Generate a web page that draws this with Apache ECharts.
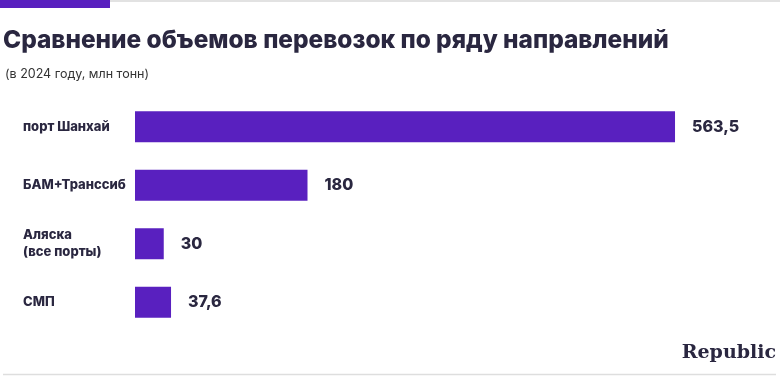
<!DOCTYPE html>
<html><head><meta charset="utf-8">
<script src="https://cdn.jsdelivr.net/npm/echarts@6/dist/echarts.min.js"></script>
<style>html,body{margin:0;padding:0;background:#fff}#c{width:780px;height:381px}</style>
</head><body><div id="c"></div>
<script>
const categories = ['порт Шанхай', 'БАМ+Транссиб', 'Аляска\n(все порты)', 'СМП'];
const values = [563.5, 180, 30, 37.6];
const titleText = 'Сравнение объемов перевозок по ряду направлений';
const subtitleText = '(в 2024 году, млн тонн)';
const brandText = 'Republic';

const chart = echarts.init(document.getElementById('c'), null, {renderer: 'canvas'});
chart.setOption({
  animation: false,
  backgroundColor: '#fff',
  title: [
    {text: titleText, left: 3, top: 29, padding: 0, textStyle: {fontFamily: 'Inter', fontWeight: 800, fontSize: 24.4, color: '#2a2740'}},
    {text: subtitleText, left: 5, top: 68, padding: 0, textStyle: {fontFamily: 'Inter', fontWeight: 400, fontSize: 12.5, color: '#333'}},
    {text: brandText, right: 4, top: 344, padding: 0, textStyle: {fontFamily: 'DejaVu Serif', fontWeight: 'bold', fontSize: 19, color: '#2a2740'}}
  ],
  graphic: [
    {type: 'rect', shape: {x: 0, y: 0, width: 110, height: 8}, style: {fill: '#5920bf'}},
    {type: 'line', shape: {x1: 110, y1: 1, x2: 780, y2: 1}, style: {stroke: '#e2e2e2', lineWidth: 2}},
    {type: 'line', shape: {x1: 3, y1: 374.5, x2: 776, y2: 374.5}, style: {stroke: '#dedede', lineWidth: 1.5}}
  ],
  grid: {left: 135, width: 575, top: 97.5, height: 234, containLabel: false},
  xAxis: {type: 'value', min: 0, max: 600, show: false},
  yAxis: {
    type: 'category', data: categories, inverse: true,
    axisLine: {show: false}, axisTick: {show: false},
    axisLabel: {align: 'left', margin: 112, fontFamily: 'Inter', fontWeight: 800, fontSize: 13, color: '#2a2740', lineHeight: 17}
  },
  series: [{
    type: 'bar', data: values, barWidth: 31,
    itemStyle: {color: '#5920bf'},
    label: {show: true, position: 'right', distance: 17, fontFamily: 'Inter', fontWeight: 800, fontSize: 16, color: '#2a2740',
      formatter: p => String(p.value).replace('.', ',')}
  }]
});
</script></body></html>
